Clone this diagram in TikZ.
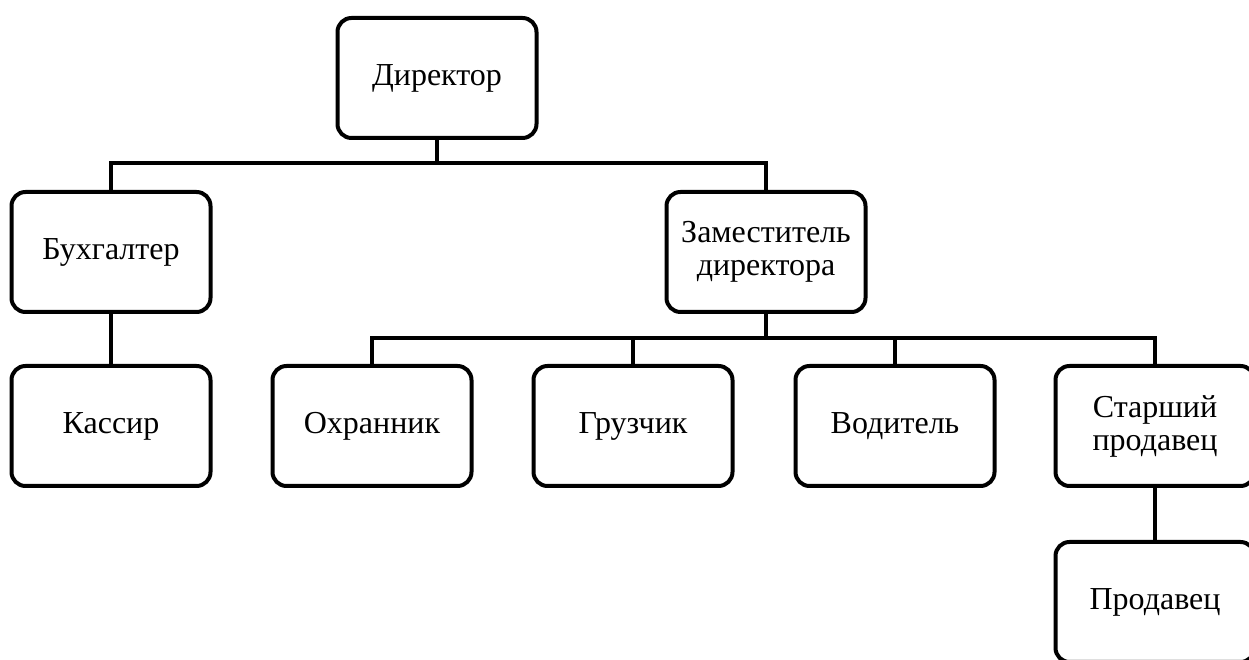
\documentclass[tikz,border=0pt]{standalone}
\usepackage{fontspec}
\setmainfont{Liberation Serif}
\usetikzlibrary{positioning}

\begin{document}
\begin{tikzpicture}[x = 1pt, y = 1pt, line width = 4pt,
	every node/.style = {rectangle, rounded corners = 14pt, draw = black, fill = white, align = center,
	minimum width = 199pt, minimum height = 120pt, font = \fontsize{32}{33}\selectfont}]

	\useasboundingbox (0, 0) rectangle (1249, 660);
	\clip (0, 0) rectangle (1249, 660);

	\node (dir)  at ( 437, 582) {Директор};
	\node (buh)  at ( 111, 408) {Бухгалтер};
	\node (zam)  at ( 766, 408) {Заместитель\\директора};
	\node (kas)  at ( 111, 234) {Кассир};
	\node (ohr)  at ( 372, 234) {Охранник};
	\node (gruz) at ( 633, 234) {Грузчик};
	\node (vod)  at ( 895, 234) {Водитель};
	\node (star) at (1155, 234) {Старший\\продавец};
	\node (prod) at (1155,  58) {Продавец};

	\coordinate (bus1) at (0, 497);
	\coordinate (bus2) at (0, 322);

    \foreach \to in {buh, zam}
    	\draw (dir.south) -- (dir.south |- bus1) -| (\to.north);
    \foreach \to in {ohr, gruz, vod, star}
    	\draw (zam.south) -- (zam.south |- bus2) -| (\to.north);
    \foreach \from/\to in {buh/kas, star/prod}
    	\draw (\from) -- (\to);

\end{tikzpicture}
\end{document}
